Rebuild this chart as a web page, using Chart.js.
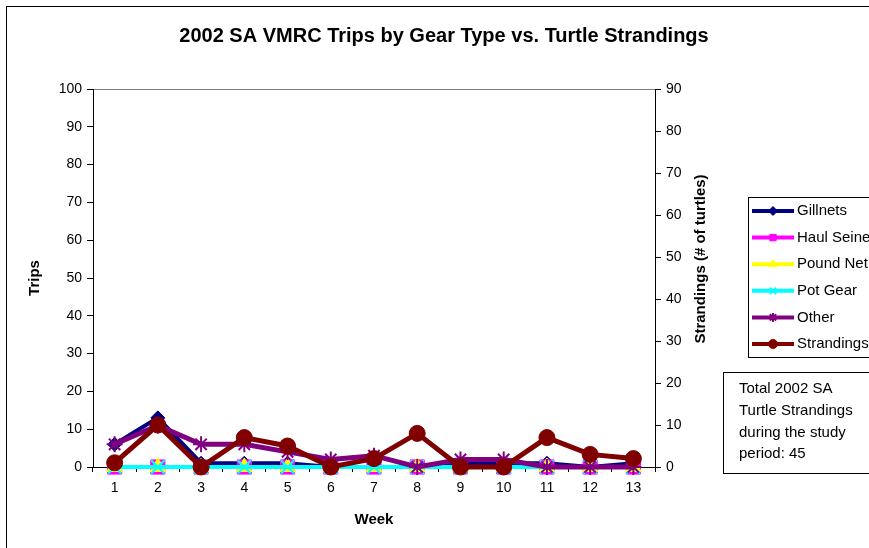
<!DOCTYPE html>
<html>
<head>
<meta charset="utf-8">
<script src="https://cdn.jsdelivr.net/npm/chart.js@4/dist/chart.umd.min.js"></script>
<style>
  html, body { margin: 0; padding: 0; background: #fff; }
</style>
</head>
<body>
<canvas id="tripChart" width="869" height="548"></canvas>
<script>
// weekly VMRC trip counts per gear type, plus turtle strandings
const weeks = ['1', '2', '3', '4', '5', '6', '7', '8', '9', '10', '11', '12', '13'];
const gillnets   = [6, 13, 1, 1, 1, 0, 0, 0, 1, 1, 1, 0, 1];
const haulSeine  = [0, 0, 0, 0, 0, 0, 0, 0, 0, 0, 0, 0, 0];
const poundNet   = [0, 0, 0, 0, 0, 0, 0, 0, 0, 0, 0, 0, 0];
const potGear    = [0, 0, 0, 0, 0, 0, 0, 0, 0, 0, 0, 0, 0];
const other      = [6, 11, 6, 6, 4, 2, 3, 0, 2, 2, 0, 0, 0];
const strandings = [1, 10, 0, 7, 5, 0, 2, 8, 0, 0, 7, 3, 2];

const chartTitle = '2002 SA VMRC Trips by Gear Type vs. Turtle Strandings';
const rightTitle = 'Strandings (# of turtles)';
const fontFamily = '"Liberation Sans", Arial, sans-serif';

const totalStrandings = strandings.reduce((a, b) => a + b, 0);
const noteLines = ['Total 2002 SA', 'Turtle Strandings', 'during the study', 'period: ' + totalStrandings];

Chart.defaults.font.family = fontFamily;
Chart.defaults.color = '#000';

function series(label, data, color, pointStyle, radius, lineWidth, axis, order) {
    const hollow = pointStyle === 'crossRot' || pointStyle === 'star';
    return {
        label: label,
        data: data,
        yAxisID: axis,
        order: order,
        borderColor: color,
        backgroundColor: color,
        borderWidth: lineWidth,
        pointStyle: pointStyle,
        pointRadius: radius,
        pointBackgroundColor: color,
        pointBorderColor: color,
        pointBorderWidth: hollow ? 2 : 1,
        tension: 0,
        clip: false
    };
}

// frame of the plot area and the outer chart border
const frames = {
    id: 'frames',
    beforeDraw(chart) {
        const ctx = chart.ctx;
        const a = chart.chartArea;
        ctx.save();
        ctx.strokeStyle = '#000';
        ctx.lineWidth = 1;
        ctx.strokeRect(6.5, 6.5, 900, 600);
        ctx.strokeStyle = '#808080';
        ctx.strokeRect(Math.round(a.left) + 0.5, Math.round(a.top) + 0.5,
            Math.round(a.right - a.left), Math.round(a.bottom - a.top));
        ctx.restore();
    }
};

// title, right axis title, legend box and note box
const sideBoxes = {
    id: 'sideBoxes',
    afterDraw(chart) {
        const ctx = chart.ctx;
        ctx.save();

        ctx.fillStyle = '#000';
        ctx.font = 'bold 20px ' + fontFamily;
        ctx.textAlign = 'center';
        ctx.textBaseline = 'middle';
        ctx.fillText(chartTitle, 444, 36);

        ctx.save();
        ctx.translate(701, 259);
        ctx.rotate(-Math.PI / 2);
        ctx.font = 'bold 15px ' + fontFamily;
        ctx.fillText(rightTitle, 0, 0);
        ctx.restore();

        ctx.strokeStyle = '#000';
        ctx.lineWidth = 1;
        ctx.strokeRect(748.5, 197.5, 140, 160);

        ctx.textAlign = 'left';
        ctx.font = '15px ' + fontFamily;
        chart.data.datasets.forEach((ds, i) => {
            const y = 211 + i * 26.6;
            ctx.strokeStyle = ds.borderColor;
            ctx.lineWidth = 4;
            ctx.beginPath();
            ctx.moveTo(752, y);
            ctx.lineTo(794, y);
            ctx.stroke();
            ctx.fillStyle = ds.pointBackgroundColor;
            ctx.strokeStyle = ds.pointBorderColor;
            ctx.lineWidth = ds.pointBorderWidth;
            Chart.helpers.drawPoint(ctx, {
                pointStyle: ds.pointStyle,
                radius: 4.5,
                borderWidth: ds.pointBorderWidth
            }, 773, y);
            ctx.fillStyle = '#000';
            ctx.fillText(ds.label, 797, y);
        });

        ctx.strokeStyle = '#000';
        ctx.lineWidth = 1;
        ctx.strokeRect(723.5, 372.5, 160, 101);
        ctx.fillStyle = '#000';
        noteLines.forEach((line, i) => {
            ctx.fillText(line, 739, 389 + i * 21.7);
        });

        ctx.restore();
    }
};

new Chart(document.getElementById('tripChart'), {
    type: 'line',
    data: {
        labels: weeks,
        datasets: [
            series('Gillnets', gillnets, '#000080', 'rectRot', 7, 4, 'y', 6),
            series('Haul Seine', haulSeine, '#FF00FF', 'rect', 10, 4, 'y', 5),
            series('Pound Net', poundNet, '#FFFF00', 'triangle', 9, 4, 'y', 4),
            series('Pot Gear', potGear, '#00FFFF', 'crossRot', 9.5, 4, 'y', 3),
            series('Other', other, '#800080', 'star', 8, 5, 'y', 2),
            series('Strandings', strandings, '#800000', 'circle', 8, 5, 'y1', 1)
        ]
    },
    options: {
        responsive: false,
        animation: false,
        clip: false,
        layout: { padding: { top: 89, left: 0, right: 150, bottom: 0 } },
        plugins: {
            legend: { display: false },
            title: { display: false },
            tooltip: { enabled: false }
        },
        scales: {
            x: {
                type: 'category',
                offset: true,
                afterFit(scale) { scale.height = 81; },
                grid: {
                    offset: true,
                    drawOnChartArea: false,
                    tickLength: 5,
                    color: '#000'
                },
                border: { color: '#000' },
                ticks: { font: { size: 14 }, padding: 8, maxRotation: 0 },
                title: {
                    display: true,
                    text: 'Week',
                    font: { size: 15, weight: 'bold' },
                    padding: { top: 0, bottom: 19 }
                }
            },
            y: {
                position: 'left',
                min: 0,
                max: 100,
                afterFit(scale) { scale.width = 93; },
                grid: { drawOnChartArea: false, tickLength: 6, color: '#000' },
                border: { color: '#000' },
                ticks: { stepSize: 10, font: { size: 14 }, padding: 5 },
                title: {
                    display: true,
                    text: 'Trips',
                    font: { size: 15, weight: 'bold' },
                    padding: { top: 26, bottom: 0 }
                }
            },
            y1: {
                position: 'right',
                min: 0,
                max: 90,
                afterFit(scale) { scale.width = 64; },
                grid: { drawOnChartArea: false, tickLength: 6, color: '#000' },
                border: { color: '#000' },
                ticks: { stepSize: 10, font: { size: 14 }, padding: 5 }
            }
        }
    },
    plugins: [frames, sideBoxes]
});
</script>
</body>
</html>
